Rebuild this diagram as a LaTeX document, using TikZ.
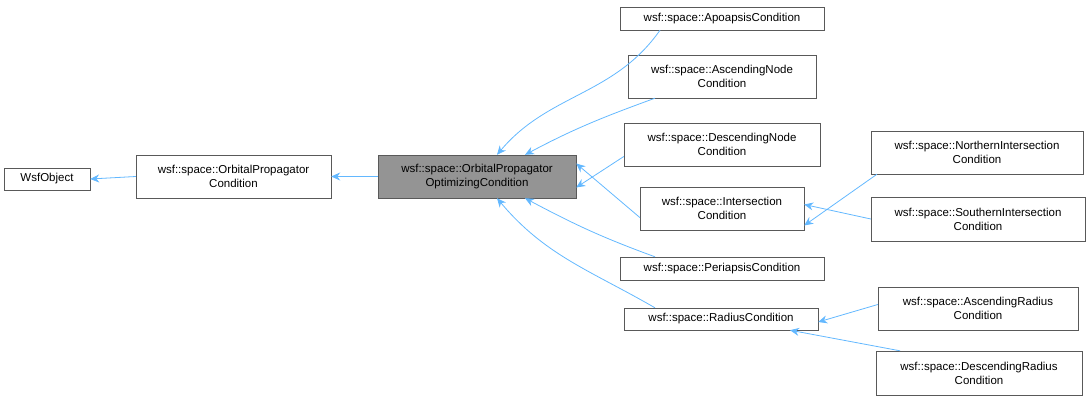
\documentclass[tikz,border=0pt]{standalone}
\usepackage{fontspec}
\setmainfont{Liberation Sans}
\usetikzlibrary{arrows.meta}
\definecolor{edge}{HTML}{63B8FF}
\begin{document}
\begin{tikzpicture}[x=1pt,y=-1pt,
  box/.style={draw=black!65,fill=white,inner sep=0pt,align=center,font=\fontsize{11.5}{14}\selectfont},
  e/.style={draw=edge,line width=0.8pt,-{Stealth[length=9pt,width=8pt,fill=edge]}}]
\useasboundingbox (0,0) rectangle (1090,403);
\node[box,minimum width=86,minimum height=22] (wsf) at (47,179) {WsfObject};
\node[box,minimum width=195,minimum height=43] (opc) at (233.5,176.5) {wsf::space::OrbitalPropagator\\Condition};
\node[box,fill=black!42,minimum width=198,minimum height=43] (opoc) at (477,176.5) {wsf::space::OrbitalPropagator\\OptimizingCondition};
\node[box,minimum width=204,minimum height=23] (apo) at (722,18.5) {wsf::space::ApoapsisCondition};
\node[box,minimum width=188,minimum height=43] (asn) at (722,76.5) {wsf::space::AscendingNode\\Condition};
\node[box,minimum width=196,minimum height=43] (dsn) at (722,144.5) {wsf::space::DescendingNode\\Condition};
\node[box,minimum width=164,minimum height=43] (int) at (722,208.5) {wsf::space::Intersection\\Condition};
\node[box,minimum width=204,minimum height=23] (per) at (722,268.5) {wsf::space::PeriapsisCondition};
\node[box,minimum width=194,minimum height=22] (rad) at (721,319) {wsf::space::RadiusCondition};
\node[box,minimum width=212,minimum height=43] (nor) at (977,152.5) {wsf::space::NorthernIntersection\\Condition};
\node[box,minimum width=214,minimum height=44] (sou) at (978,219) {wsf::space::SouthernIntersection\\Condition};
\node[box,minimum width=200,minimum height=43] (asr) at (978,308.5) {wsf::space::AscendingRadius\\Condition};
\node[box,minimum width=206,minimum height=44] (dsr) at (979,373) {wsf::space::DescendingRadius\\Condition};
\draw[e] (opc.west) -- (wsf.east);
\draw[e] (opoc.west) -- (opc.east);
\draw[e] ([xshift=-62pt]apo.south) to[out=-125,in=50] ([xshift=20pt]opoc.north);
\draw[e] ([xshift=-67pt]asn.south) to[out=-160,in=28] ([xshift=48pt]opoc.north);
\draw[e] ([yshift=-12pt]dsn.west) -- ([yshift=-11pt]opoc.east);
\draw[e] ([yshift=-9pt]int.west) -- ([yshift=13pt]opoc.east);
\draw[e] ([xshift=-67pt]per.north) to[out=160,in=-28] ([xshift=48pt]opoc.south);
\draw[e] ([xshift=-66pt]rad.north) to[out=150,in=-50] ([xshift=20pt]opoc.south);
\draw[e] ([xshift=-100pt]nor.south) -- ([yshift=-17pt]int.east);
\draw[e] (sou.west) -- ([yshift=4pt]int.east);
\draw[e] ([yshift=4pt]asr.west) -- ([yshift=-3pt]rad.east);
\draw[e] ([xshift=-79pt]dsr.north) -- ([xshift=69pt]rad.south);
\end{tikzpicture}
\end{document}
